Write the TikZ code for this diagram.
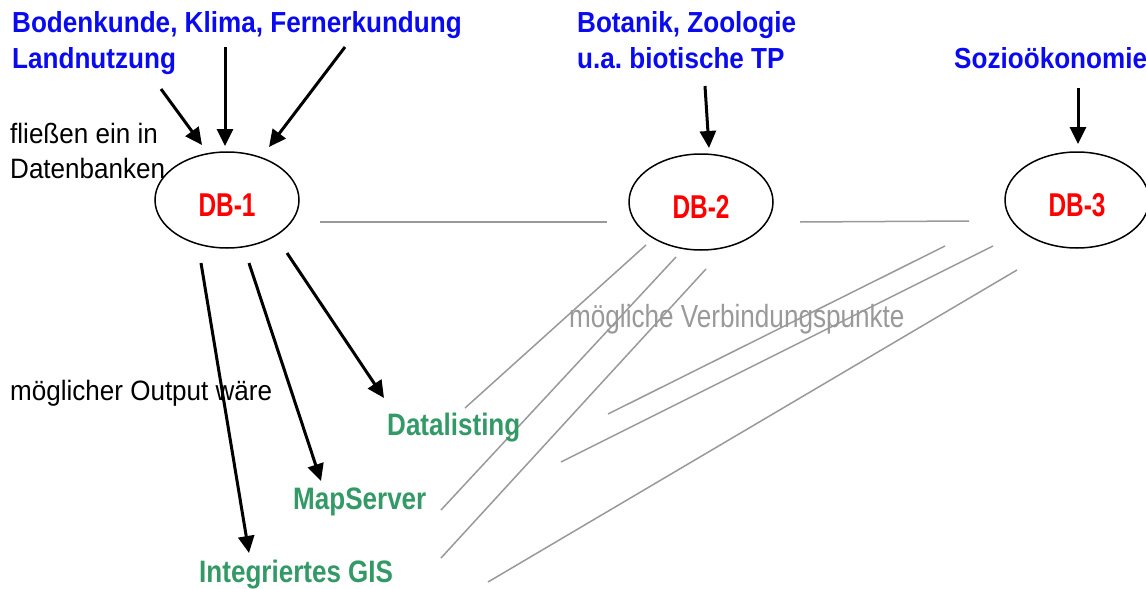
\documentclass[tikz,border=0pt]{standalone}
\usepackage{fontspec}
\setmainfont{Liberation Sans}[FakeStretch=0.93]
\newfontfamily\topicfont{Liberation Sans}[FakeStretch=0.90]
\newfontfamily\outfont{Liberation Sans}[FakeStretch=0.84]
\newfontfamily\linkfont{Liberation Sans}[FakeStretch=0.816]
\newfontfamily\dbfont{Liberation Sans}[FakeStretch=0.74]
\usetikzlibrary{arrows.meta,shapes.geometric}
\frenchspacing

\definecolor{topicblue}{RGB}{10,10,240}
\definecolor{dbred}{RGB}{255,0,0}
\definecolor{outgreen}{RGB}{51,153,102}
\definecolor{linkgray}{RGB}{153,153,153}

\tikzset{
  txt/.style={inner sep=0pt, anchor=base west, font=\fontsize{28}{34}\selectfont},
  topic/.style={txt, text=topicblue, font=\topicfont\fontsize{29}{34}\selectfont\bfseries},
  note/.style={txt, text=black},
  output/.style={txt, text=outgreen, font=\outfont\fontsize{31}{36}\selectfont\bfseries},
  linknote/.style={txt, text=linkgray, font=\linkfont\fontsize{32}{36}\selectfont},
  dbnode/.style={ellipse, draw=black, line width=1.5pt, minimum width=144pt,
    minimum height=96pt, inner sep=0pt, text=dbred, text height=32pt, text depth=0pt,
    font=\dbfont\fontsize{33}{36}\selectfont\bfseries},
  feed/.style={line width=3pt, -{Triangle[length=17pt,width=16pt]}},
  link/.style={draw=linkgray, line width=1.5pt}
}

\begin{document}
\begin{tikzpicture}[x=1pt,y=-1pt]
\useasboundingbox (0,0) rectangle (1146,589);

% databases
\node[dbnode] (db1) at (227,200) {DB-1};
\node[dbnode] (db2) at (701,202) {DB-2};
\node[dbnode] (db3) at (1077,200) {DB-3};

% free ends of the possible links
\coordinate (h1a) at (320,222);  \coordinate (h1b) at (607,222);
\coordinate (h2a) at (800,222);  \coordinate (h2b) at (969,221);
\coordinate (p1a) at (646,245);  \coordinate (p1b) at (465,408);
\coordinate (p2a) at (676,257);  \coordinate (p2b) at (441,510);
\coordinate (p3a) at (706,269);  \coordinate (p3b) at (441,558);
\coordinate (p4a) at (945,246);  \coordinate (p4b) at (608,414);
\coordinate (p5a) at (993,246);  \coordinate (p5b) at (561,462);
\coordinate (p6a) at (1017,270); \coordinate (p6b) at (488,582);

\foreach \p in {h1,h2,p1,p2,p3,p4,p5,p6}
  \draw[link] (\p a) -- (\p b);

% topic labels
\node[topic] (t1) at (12,32) {Bodenkunde, Klima, Fernerkundung};
\node[topic] (t2) at (12,68) {Landnutzung};
\node[topic] (t3) at (577,32) {Botanik, Zoologie};
\node[topic] (t4) at (577,68) {u.a.\ biotische TP};
\node[topic] (t5) at (954,68) {Sozioökonomie};

% notes
\node[note] (n1) at (10,143) {fließen ein in};
\node[note] (n2) at (10,178) {Datenbanken};
\node[note] (n3) at (10,400) {möglicher Output wäre};
\node[linknote] (n4) at (569,327) {mögliche Verbindungspunkte};

% outputs
\node[output] (o1) at (387,435) {Datalisting};
\node[output] (o2) at (293,509) {MapServer};
\node[output] (o3) at (199,582) {Integriertes GIS};

% arrows into the databases
\coordinate (a1s) at (161,89);   \coordinate (a1e) at (202,145);
\coordinate (a2s) at (225,47);   \coordinate (a2e) at (225,146);
\coordinate (a3s) at (345,47);   \coordinate (a3e) at (269,147);
\coordinate (a4s) at (705,86);   \coordinate (a4e) at (709,148);
\coordinate (a5s) at (1078,88);  \coordinate (a5e) at (1078,144);
\foreach \a in {a1,a2,a3,a4,a5}
  \draw[feed] (\a s) -- (\a e);

% arrows to the outputs
\coordinate (b1s) at (201,263);  \coordinate (b1e) at (249,553);
\coordinate (b2s) at (249,263);  \coordinate (b2e) at (321,481);
\coordinate (b3s) at (287,253);  \coordinate (b3e) at (384,398);
\foreach \b in {b1,b2,b3}
  \draw[feed] (\b s) -- (\b e);
\end{tikzpicture}
\end{document}
